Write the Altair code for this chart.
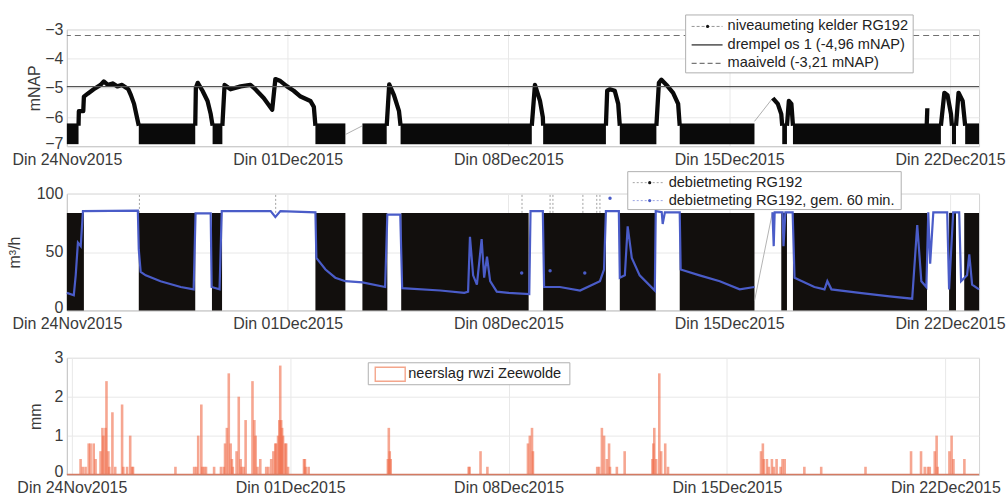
import altair as alt
import pandas as pd

FONT = "Liberation Sans"

# ---------------- axis ticks / labels ----------------
DAY_TICKS = [0, 7, 14, 21, 28]
DAY_LABELS = ["Din 24Nov2015", "Din 01Dec2015", "Din 08Dec2015", "Din 15Dec2015", "Din 22Dec2015"]
X_MAX = 28.92  # days after 24 Nov 2015 00:00

LEVEL_TICKS = [-7, -6, -5, -4, -3]
FLOW_TICKS = [0, 50, 100]
RAIN_TICKS = [0, 1, 2, 3]

THRESHOLD = -4.96   # drempel os 1
GROUND = -3.21      # maaiveld

LEGEND_TOP = ["niveaumeting kelder RG192", "drempel os 1 (-4,96 mNAP)", "maaiveld (-3,21 mNAP)"]
LEGEND_MID = ["debietmeting RG192", "debietmeting RG192, gem. 60 min."]
LEGEND_BOT = ["neerslag rwzi Zeewolde"]

# ---------------- level (top panel) ----------------
LEVEL_NOISE_LOW = -6.93
LEVEL_NOISE_HIGH = -6.22
LEVEL_BAND_START = [0.00, 2.28, 4.62, 7.88, 9.37, 10.58, 15.10, 17.53, 19.43, 22.68, 23.02, 28.06, 28.48]
LEVEL_BAND_END = [0.37, 4.07, 4.93, 8.83, 10.14, 14.74, 17.09, 18.69, 21.80, 22.83, 27.71, 28.19, 28.92]

LEVEL_PEAK_DAYS = [
    [0.37, 0.38, 0.52, 0.54, 0.66, 0.85, 1.07, 1.17, 1.30, 1.45, 1.60, 1.75, 1.88, 1.95, 2.03, 2.13, 2.22, 2.28],
    [4.07, 4.09, 4.15, 4.30, 4.46, 4.56, 4.62],
    [4.93, 5.00, 5.19, 5.51, 5.82, 5.93, 6.24, 6.51, 6.61, 6.77, 6.98, 7.19, 7.41, 7.72, 7.83, 7.88],
    [10.14, 10.22, 10.37, 10.53, 10.58],
    [14.74, 14.84, 15.00, 15.09, 15.10],
    [17.09, 17.13, 17.22, 17.37, 17.48, 17.53],
    [18.69, 18.77, 18.85, 19.01, 19.22, 19.38, 19.43],
    [22.38, 22.54, 22.65, 22.68],
    [22.83, 22.89, 22.97, 23.02],
    [27.26, 27.28],
    [27.71, 27.82, 27.92, 28.03, 28.06],
    [28.19, 28.27, 28.40, 28.48],
]
LEVEL_PEAK_VALUES = [
    [-6.3, -5.8, -5.8, -5.3, -5.2, -5.05, -4.9, -4.78, -4.9, -4.85, -4.95, -4.9, -5.0, -5.05, -5.25, -5.55, -6.0, -6.3],
    [-6.3, -5.0, -4.83, -5.1, -5.45, -5.9, -6.3],
    [-6.3, -4.9, -5.05, -4.95, -4.9, -5.0, -5.35, -5.75, -4.7, -4.77, -4.95, -5.1, -5.3, -5.45, -5.65, -6.3],
    [-6.3, -4.88, -5.25, -5.8, -6.3],
    [-6.3, -4.9, -5.45, -6.0, -6.3],
    [-6.3, -5.1, -5.05, -5.1, -5.55, -6.3],
    [-6.3, -4.83, -4.72, -4.9, -5.17, -5.55, -6.3],
    [-5.35, -5.55, -5.9, -6.3],
    [-6.3, -5.45, -5.55, -6.3],
    [-6.3, -5.7],
    [-6.3, -5.17, -5.25, -5.9, -6.3],
    [-6.3, -5.17, -5.45, -6.3],
]
LEVEL_GAP_DAYS = [[8.83, 9.37], [21.80, 22.38]]
LEVEL_GAP_VALUES = [[-6.6, -6.3], [-6.15, -5.35]]

# ---------------- flow (middle panel) ----------------
FLOW_NOISE_LOW = 0
FLOW_NOISE_HIGH = 83.5
FLOW_BAND_START = [0.00, 2.28, 4.60, 7.88, 9.37, 10.60, 15.10, 17.53, 19.43, 22.65, 23.02, 27.97, 28.45]
FLOW_BAND_END = [0.54, 4.07, 4.92, 8.83, 10.16, 14.64, 17.09, 18.67, 21.80, 22.83, 27.27, 28.19, 28.92]

FLOW_AVG_DAYS = [
    [0.00, 0.22, 0.28, 0.35, 0.44, 0.51, 2.25, 2.28, 2.34, 2.50, 2.97, 3.61, 4.02, 4.08, 4.56, 4.59, 4.84,
     4.91, 6.46, 6.61, 6.77, 7.88, 7.91, 8.20, 8.51, 8.83, 9.37, 10.09, 10.16, 10.57, 10.63, 11.84, 12.60,
     12.72, 12.78, 12.88, 13.00, 13.15, 13.23, 13.32, 13.42, 13.63, 14.00, 14.66, 14.70, 15.09, 15.13,
     15.63, 16.27, 16.90, 17.03, 17.09, 17.50, 17.53, 17.69, 17.78, 17.91, 18.16, 18.64, 18.67, 18.86,
     18.89, 18.96, 19.43, 19.46, 20.06, 20.70, 21.33, 21.80],
    [22.37, 22.41, 22.44, 22.69, 22.72, 22.78, 23.01, 23.07, 23.70, 24.02, 24.11, 24.24, 25.13, 26.08,
     26.80, 26.96, 27.09, 27.25, 27.31, 27.37, 27.47, 27.91, 27.97, 28.10, 28.29, 28.35, 28.54, 28.61,
     28.70, 28.92],
]
FLOW_AVG_VALUES = [
    [15, 13, 30, 58, 55, 85, 85.5, 52, 33, 30, 25, 20, 18, 83, 83, 20, 18,
     85, 85, 80, 85, 84, 45, 35, 28, 25, 24, 20, 82, 82, 19, 17, 15,
     16, 63, 30, 22, 61, 28, 46, 25, 16, 15, 14, 85, 85, 20,
     20, 17, 25, 35, 85, 85, 28, 30, 72, 45, 30, 17, 85, 84,
     74, 84, 84, 35, 30, 25, 18, 20],
    [84, 55, 84, 84, 55, 84, 84, 28, 20, 18, 25, 18, 15, 12,
     10, 73, 25, 20, 84, 40, 84, 84, 18, 84, 84, 25, 30, 48,
     22, 18],
]
FLOW_AVG_DOT_DAYS = [14.42, 15.32, 16.42, 17.22]
FLOW_AVG_DOT_VALUES = [32, 34, 32, 96]
FLOW_SPIKE_DAYS = [2.30, 6.62, 14.43, 15.32, 15.41, 16.36, 16.80, 16.90]
FLOW_SPIKE_TOPS = [99, 100, 100, 100, 100, 100, 100, 100]
FLOW_GAP_DAYS = [[8.83, 9.37], [21.80, 22.37]]
FLOW_GAP_VALUES = [[25, 24], [8, 84]]

# ---------------- rain (bottom panel) ----------------
RAIN_DAYS = [0.28, 0.35, 0.44, 0.54, 0.60, 0.70, 0.76, 0.92, 0.98, 1.01, 1.08, 1.11, 1.17, 1.20, 1.30, 1.39,
             1.61, 1.65, 1.77, 1.87, 1.93, 1.96, 3.32, 3.92, 3.99, 4.05, 4.15, 4.18, 4.24, 4.30, 4.56, 4.78,
             4.87, 4.91, 4.97, 5.03, 5.09, 5.13, 5.16, 5.28, 5.35, 5.41, 5.44, 5.51, 5.57, 5.79, 5.85, 5.89,
             5.95, 6.04, 6.23, 6.30, 6.39, 6.46, 6.52, 6.55, 6.61, 6.65, 6.68, 6.71, 6.74, 6.77, 6.84, 6.87,
             6.93, 7.44, 7.47, 7.50, 7.59, 10.13, 10.16, 10.19, 10.22, 12.72, 12.75, 13.10, 13.32, 14.62,
             14.68, 14.75, 14.78, 16.84, 16.90, 16.99, 17.06, 17.15, 17.22, 17.25, 17.47, 17.72, 18.61, 18.64,
             18.67, 18.73, 18.83, 18.89, 19.02, 19.11, 22.09, 22.15, 22.18, 22.28, 22.34, 22.44, 22.50, 22.59,
             22.72, 22.78, 22.85, 23.48, 24.02, 25.44, 26.90, 27.22, 27.34, 27.44, 27.50, 27.66, 27.72, 27.75,
             28.13, 28.20, 28.26, 28.61]
RAIN_MM = [0.4, 0.2, 0.2, 0.8, 0.8, 0.8, 0.4, 0.6, 1.2, 1.0, 1.2, 2.4, 0.6, 0.2, 1.6, 0.2,
           1.8, 0.2, 0.2, 1.0, 0.2, 0.2, 0.2, 0.2, 0.2, 1.0, 1.8, 0.2, 0.2, 0.2, 0.2, 0.2,
           0.2, 0.8, 1.2, 2.6, 0.8, 0.4, 0.2, 0.6, 2.0, 0.4, 0.2, 0.2, 1.4, 2.4, 1.4, 1.0,
           0.2, 0.4, 0.2, 0.2, 0.4, 0.6, 0.8, 0.8, 1.0, 1.4, 2.8, 1.4, 1.2, 1.0, 0.8, 0.8,
           0.2, 0.4, 0.4, 0.2, 0.2, 0.4, 1.2, 0.6, 0.4, 0.2, 0.2, 0.6, 0.2, 0.8,
           1.0, 1.2, 0.6, 0.2, 0.2, 1.2, 1.0, 0.4, 0.8, 0.2, 0.2, 0.6, 0.4, 0.8,
           1.2, 0.4, 2.6, 0.6, 0.8, 0.2, 0.6, 0.8, 0.4, 0.4, 0.2, 0.4, 0.2, 0.4,
           0.2, 0.4, 0.4, 0.2, 0.2, 0.2, 0.6, 0.6, 0.2, 0.2, 0.2, 0.6, 1.0, 0.2,
           0.6, 1.0, 0.4, 0.4]

# ---------------- tables ----------------
def seg_table(days_list, vals_list, vname):
    rows = []
    for i, (ds, vs) in enumerate(zip(days_list, vals_list)):
        for d, v in zip(ds, vs):
            rows.append({"seg": i, "day": d, vname: v})
    return pd.DataFrame(rows)

level_bands = pd.DataFrame({"start": LEVEL_BAND_START, "end": LEVEL_BAND_END,
                            "lo": LEVEL_NOISE_LOW, "hi": LEVEL_NOISE_HIGH})
level_peaks = seg_table(LEVEL_PEAK_DAYS, LEVEL_PEAK_VALUES, "level")
level_gaps = seg_table(LEVEL_GAP_DAYS, LEVEL_GAP_VALUES, "level")
flow_bands = pd.DataFrame({"start": FLOW_BAND_START, "end": FLOW_BAND_END,
                           "lo": FLOW_NOISE_LOW, "hi": FLOW_NOISE_HIGH})
flow_avg = seg_table(FLOW_AVG_DAYS, FLOW_AVG_VALUES, "flow")
flow_gaps = seg_table(FLOW_GAP_DAYS, FLOW_GAP_VALUES, "flow")
flow_dots = pd.DataFrame({"day": FLOW_AVG_DOT_DAYS, "flow": FLOW_AVG_DOT_VALUES})
flow_spikes = pd.DataFrame({"day": FLOW_SPIKE_DAYS, "lo": FLOW_NOISE_HIGH, "flow": FLOW_SPIKE_TOPS})
rain = pd.DataFrame({"day": RAIN_DAYS, "mm": RAIN_MM})
one = pd.DataFrame({"k": [0]})

# ---------------- encodings ----------------
W, H = 914, 117
LABEL_COLOR = "#3a3a3a"
xscale = alt.Scale(domain=[0, X_MAX], nice=False, zero=False)
label_js = "[" + ",".join("'%s'" % s for s in DAY_LABELS) + "][round(datum.value/7)]"
xaxis = alt.Axis(values=DAY_TICKS, labelExpr=label_js, title=None, grid=True, ticks=False,
                 labelFontSize=16, labelPadding=5, labelFlush=False, labelOverlap=False,
                 labelColor=LABEL_COLOR, labelFont=FONT, domainColor="#c8c8c8", gridColor="#e8e8e8")


def X(field):
    return alt.X(field, type="quantitative", scale=xscale, axis=xaxis)


def yaxis(values, title, title_x):
    lowest = min(values)
    return alt.Axis(values=values, title=title, titleX=title_x, titleY=H / 2, titleAngle=270,
                    titleAlign="center", titleBaseline="bottom", titleFontSize=16, titleFont=FONT,
                    titleFontWeight="normal", titleColor=LABEL_COLOR, ticks=False, labelPadding=4,
                    labelFontSize=16, labelFont=FONT, labelColor=LABEL_COLOR, grid=True,
                    labelOffset={"condition": {"test": "datum.value == %s" % lowest, "value": -3},
                                 "value": 0},
                    gridColor="#e8e8e8", domainColor="#c8c8c8")


def Y(field, domain, values, title, title_x):
    return alt.Y(field, type="quantitative", scale=alt.Scale(domain=domain, nice=False, zero=False),
                 axis=yaxis(values, title, title_x))


def legend_box(x1, x2, y1, y2, stroke="#b0b0b0"):
    return alt.Chart(one).mark_rect(fill="white", stroke=stroke, strokeWidth=1).encode(
        x=alt.value(x1), x2=alt.value(x2), y=alt.value(y1), y2=alt.value(y2))


def legend_line(x1, x2, y, color, width, dash=None):
    kw = dict(color=color, strokeWidth=width)
    if dash:
        kw["strokeDash"] = dash
    return alt.Chart(one).mark_rule(**kw).encode(x=alt.value(x1), x2=alt.value(x2), y=alt.value(y))


def legend_dot(x, y, color):
    return alt.Chart(one).mark_point(filled=True, color=color, size=10, opacity=1).encode(
        x=alt.value(x), y=alt.value(y))


def legend_text(x, y, text):
    return alt.Chart(one).mark_text(text=text, align="left", baseline="middle", fontSize=14.6,
                                    font=FONT, color="#222222").encode(x=alt.value(x), y=alt.value(y))


# ---------------- top panel ----------------
LD = [-7, -3]
top = alt.layer(
    alt.Chart(level_bands).mark_rect(color="#0a0a0a").encode(
        x=X("start"), x2="end", y=Y("lo", LD, LEVEL_TICKS, "mNAP", -24), y2="hi"),
    alt.Chart(level_gaps).mark_line(color="#9a9a9a", strokeWidth=0.8).encode(
        x=X("day"), y=Y("level", LD, LEVEL_TICKS, "mNAP", -24), detail="seg:N"),
    alt.Chart(level_peaks).mark_line(color="#0a0a0a", strokeWidth=4.3, strokeJoin="round").encode(
        x=X("day"), y=Y("level", LD, LEVEL_TICKS, "mNAP", -24), detail="seg:N"),
    alt.Chart(pd.DataFrame({"level": [THRESHOLD]})).mark_rule(color="#555555", strokeWidth=1.3).encode(
        y=Y("level", LD, LEVEL_TICKS, "mNAP", -24)),
    alt.Chart(pd.DataFrame({"level": [GROUND]})).mark_rule(color="#707070", strokeWidth=1.1,
                                                          strokeDash=[6, 4]).encode(
        y=Y("level", LD, LEVEL_TICKS, "mNAP", -24)),
    legend_box(620, 848, -14.5, 43.5),
    legend_line(626, 657, -3, "#8a8a8a", 0.9, [3, 2]),
    legend_dot(642, -3, "#111111"),
    legend_line(626, 657, 15.5, "#333333", 1.3),
    legend_line(626, 657, 34, "#777777", 1.1, [5, 3]),
    legend_text(662, -3, LEGEND_TOP[0]),
    legend_text(662, 15.5, LEGEND_TOP[1]),
    legend_text(662, 34, LEGEND_TOP[2]),
).properties(width=W, height=H)

# ---------------- middle panel ----------------
FD = [0, 100]
FT = "m³/h"
BLUE = "#4a5cc8"
mid = alt.layer(
    alt.Chart(flow_bands).mark_rect(color="#120f0d").encode(
        x=X("start"), x2="end", y=Y("lo", FD, FLOW_TICKS, FT, -44), y2="hi"),
    alt.Chart(flow_spikes).mark_rule(color="#8a8a8a", strokeWidth=0.8, strokeDash=[2, 2]).encode(
        x=X("day"), y=Y("lo", FD, FLOW_TICKS, FT, -44), y2="flow"),
    alt.Chart(flow_gaps).mark_line(color="#a0a0a0", strokeWidth=0.8).encode(
        x=X("day"), y=Y("flow", FD, FLOW_TICKS, FT, -44), detail="seg:N"),
    alt.Chart(flow_avg).mark_line(color=BLUE, strokeWidth=2.2).encode(
        x=X("day"), y=Y("flow", FD, FLOW_TICKS, FT, -44), detail="seg:N"),
    alt.Chart(flow_dots).mark_point(filled=True, color=BLUE, size=12, opacity=1).encode(
        x=X("day"), y=Y("flow", FD, FLOW_TICKS, FT, -44)),
    legend_box(562, 836, -22, 16),
    legend_line(567, 597, -11, "#9a9a9a", 0.9, [2, 2]),
    legend_dot(584, -11, "#111111"),
    legend_line(567, 597, 7, "#8f9ae0", 0.9, [2, 2]),
    legend_dot(584, 7, BLUE),
    legend_text(603, -11, LEGEND_MID[0]),
    legend_text(603, 7, LEGEND_MID[1]),
).properties(width=W, height=H)

# ---------------- bottom panel ----------------
RD = [0, 3]
bot = alt.layer(
    alt.Chart(rain).mark_bar(size=2.6, color="#f06a48", opacity=0.6).encode(
        x=X("day"), y=Y("mm", RD, RAIN_TICKS, "mm", -23)),
    alt.Chart(pd.DataFrame({"mm": [0]})).mark_rule(color="#d47a62", strokeWidth=1.6).encode(
        y=Y("mm", RD, RAIN_TICKS, "mm", -23)),
    legend_box(302, 504, 5, 27),
    alt.Chart(one).mark_rect(fill="white", stroke="#f4a68c", strokeWidth=1.4).encode(
        x=alt.value(309), x2=alt.value(339), y=alt.value(9.5), y2=alt.value(23.5)),
    legend_text(342, 16, LEGEND_BOT[0]),
).properties(width=W, height=H)

chart = alt.vconcat(top, mid, bot, spacing=47.5, bounds="flush").properties(
    padding={"left": 6, "top": 13, "right": 0, "bottom": 0},
    background="white",
).configure_view(stroke="#d4d4d4", strokeWidth=1)

chart.save("out.html", embed_options={"renderer": "svg", "actions": False})
